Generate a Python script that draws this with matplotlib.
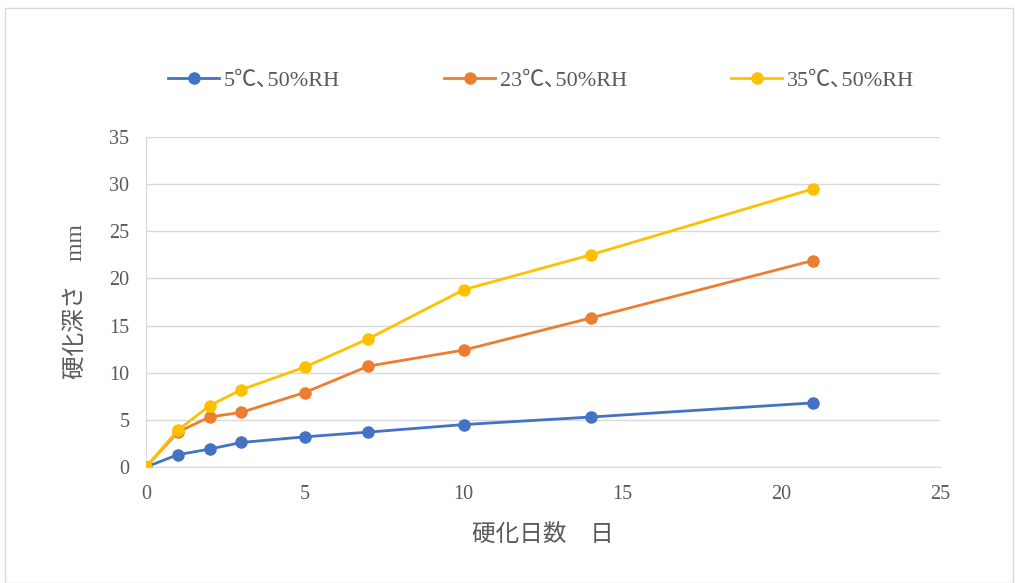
import numpy as np
import matplotlib.pyplot as plt
from matplotlib.patches import Rectangle

days = [0, 1, 2, 3, 5, 7, 10, 14, 21]
depth_5c = [0, 1.3, 1.9, 2.6, 3.2, 3.7, 4.5, 5.3, 6.8]
depth_23c = [0, 3.7, 5.3, 5.8, 7.9, 10.7, 12.4, 15.8, 21.9]
depth_35c = [0, 3.9, 6.5, 8.2, 10.6, 13.6, 18.8, 22.5, 29.5]
labels = ['5℃､50%RH', '23℃､50%RH', '35℃､50%RH']
colors = ['#4472C4', '#ED7D31', '#FFC000']

fonts = ['Liberation Serif', 'Noto Sans CJK JP']
plt.rcParams['font.family'] = fonts

fig = plt.figure(figsize=(10.15, 5.83), dpi=100)
ax = fig.add_axes([146 / 1015, 1 - 467 / 583, 794 / 1015, 330 / 583])

for ys, lab, c in zip([depth_5c, depth_23c, depth_35c], labels, colors):
    ax.plot(days, ys, color=c, lw=2, marker='o', ms=8, label=lab, zorder=3)

ax.set_xlim(0, 25)
ax.set_ylim(0, 35)
ax.set_xticks(range(0, 26, 5))
ax.set_yticks(range(0, 36, 5))
ax.grid(axis='y', color='#d9d9d9', lw=1)
ax.set_axisbelow(True)
for s in ['top', 'right']:
    ax.spines[s].set_visible(False)
for s in ['left', 'bottom']:
    ax.spines[s].set_color('#d9d9d9')
ax.tick_params(length=0, labelsize=14.5, labelcolor='#595959')
ax.tick_params(axis='x', pad=13)
ax.tick_params(axis='y', pad=12)

ax.set_xlabel('硬化日数　日', fontsize=17, color='#595959', labelpad=14)
ax.set_ylabel('硬化深さ　mm', fontsize=17, color='#595959', labelpad=16)

fig.legend(loc='center', bbox_to_anchor=(0.533, 0.862), ncol=3, frameon=False,
           fontsize=16, labelcolor='#595959', columnspacing=4.7, handlelength=2.3,
           handletextpad=0.2)

fig.patches.append(Rectangle((5 / 1015, 0), 1008 / 1015, 1 - 8 / 583,
                             transform=fig.transFigure, fill=False,
                             edgecolor='#d9d9d9', lw=1))

fig.savefig('out.png', dpi=100)
